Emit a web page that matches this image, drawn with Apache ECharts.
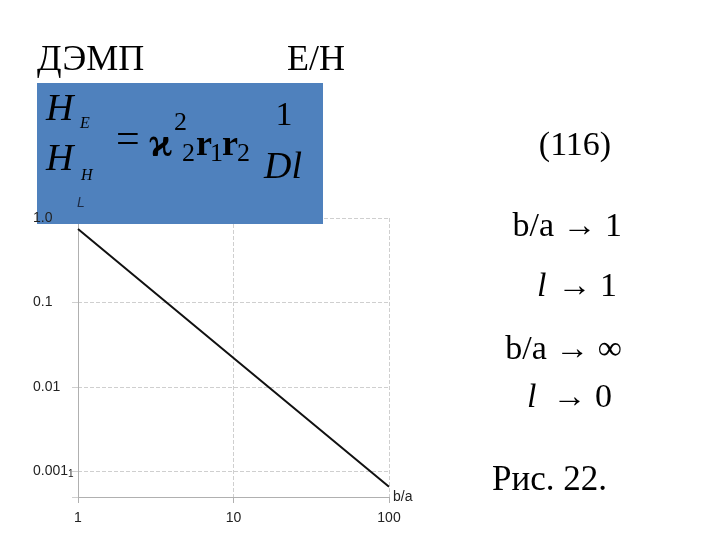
<!DOCTYPE html>
<html>
<head>
<meta charset="utf-8">
<script src="https://cdn.jsdelivr.net/npm/echarts@6/dist/echarts.min.js"></script>
<style>
  html, body { margin: 0; padding: 0; background: #fff; }
  #main { width: 720px; height: 540px; }
</style>
</head>
<body>
<div id="main"></div>
<script>
// данные графика: L(b/a), логарифмические оси
var ratioBA = [1, 10, 100];
var valueL = [0.74, 0.022, 0.00066];
var yTicks = [1, 0.1, 0.01, 0.001];
var yTickLabels = ['1.0', '0.1', '0.01', '{a|0.001}{b|1}'];
var xTickLabels = { 1: '1', 10: '10', 100: '100' };

var serif = '"Liberation Serif", "DejaVu Serif", serif';
var sans = '"Liberation Sans", Arial, sans-serif';

var chart = echarts.init(document.getElementById('main'));

function yLabel(v) {
  for (var i = 0; i < yTicks.length; i++) {
    if (Math.abs(Math.log10(v) - Math.log10(yTicks[i])) < 1e-6) return yTickLabels[i];
  }
  return '';
}

function txt(text, x, y, size, opts) {
  opts = opts || {};
  return {
    type: 'text', x: x, y: y, z: opts.z || 30,
    style: {
      text: text,
      font: (opts.style || '') + ' ' + (opts.weight || '') + ' ' + size + 'px ' + (opts.family || serif),
      fill: opts.color || '#000',
      textAlign: opts.align || 'left',
      textVerticalAlign: 'middle'
    }
  };
}

var pts = ratioBA.map(function (x, i) { return [x, valueL[i]]; });

chart.setOption({
  backgroundColor: '#fff',
  animation: false,
  grid: { left: 78, right: 331, top: 218, bottom: 43 },
  xAxis: {
    type: 'log', logBase: 10, min: 1, max: 100,
    name: 'b/a', nameLocation: 'end', nameGap: 4,
    nameTextStyle: { fontFamily: sans, fontSize: 14, color: '#222', padding: [0, 0, 10, 0] },
    axisLine: { show: true, lineStyle: { color: '#b0b0b0', width: 1 } },
    axisTick: { show: true, length: 6, lineStyle: { color: '#b0b0b0' } },
    axisLabel: {
      fontFamily: sans, fontSize: 14, color: '#222', margin: 14,
      formatter: function (v) { return xTickLabels[Math.round(v)] || ''; }
    },
    splitLine: { show: true, lineStyle: { color: '#cfcfcf', type: [4, 2] } },
    minorTick: { show: false }
  },
  yAxis: [{
    type: 'log', logBase: 10, min: 0.0005, max: 1,
    axisLine: { show: true, lineStyle: { color: '#b0b0b0', width: 1 } },
    axisTick: { show: true, length: 6, lineStyle: { color: '#cfcfcf' } },
    axisLabel: { show: false },
    splitLine: { show: true, lineStyle: { color: '#cfcfcf', type: [4, 2] } },
    z: 0
  }, {
    type: 'log', logBase: 10, min: 0.0005, max: 1, position: 'left',
    name: 'L', nameLocation: 'end', nameGap: 8,
    nameTextStyle: { fontFamily: sans, fontStyle: 'italic', fontSize: 14, color: '#1c2b45', align: 'left', padding: [0, 0, 0, -1] },
    axisLine: { show: false }, axisTick: { show: false }, splitLine: { show: false },
    axisLabel: {
      fontFamily: sans, fontSize: 14, color: '#222', align: 'left', margin: 45,
      formatter: yLabel,
      rich: { a: { fontFamily: sans, fontSize: 14, color: '#222' }, b: { fontFamily: sans, fontSize: 10, color: '#222', padding: [6, 0, 0, 0] } }
    },
    z: 40
  }],
  series: [{
    type: 'line', data: pts, yAxisIndex: 0,
    showSymbol: false, symbol: 'none',
    lineStyle: { color: '#111', width: 2 }, z: 3
  }],
  graphic: [
    { type: 'rect', z: 20, shape: { x: 37, y: 83, width: 286, height: 141 }, style: { fill: '#4f81bd' } },
    txt('ДЭМП', 37, 61, 36),
    txt('Е/Н', 287, 61, 36),
    txt('H', 46, 110, 38, { style: 'italic' }),
    txt('E', 80, 124, 16, { style: 'italic' }),
    txt('H', 46, 160, 38, { style: 'italic' }),
    txt('H', 81, 176, 16, { style: 'italic' }),
    txt('=', 116, 141, 42),
    txt('ϰ', 149, 146, 40, { weight: 'bold' }),
    txt('2', 174, 123, 26),
    txt('2', 182, 154, 26),
    txt('r', 196, 146, 36, { weight: 'bold' }),
    txt('1', 210, 154, 26),
    txt('r', 222, 146, 36, { weight: 'bold' }),
    txt('2', 237, 154, 26),
    txt('1', 284, 116, 34, { align: 'center' }),
    txt('Dl', 264, 168, 38, { style: 'italic' }),
    txt('(116)', 575, 146, 34, { align: 'center' }),
    txt('b/a \u2192 1', 622, 227, 34, { align: 'right' }),
    txt('l', 537, 287, 34, { style: 'italic' }),
    txt('\u2192 1', 617, 287, 34, { align: 'right' }),
    txt('b/a \u2192 \u221e', 622, 350, 34, { align: 'right' }),
    txt('l', 527, 398, 34, { style: 'italic' }),
    txt('\u2192 0', 612, 398, 34, { align: 'right' }),
    txt('Рис. 22.', 492, 481, 35)
  ]
});
</script>
</body>
</html>
